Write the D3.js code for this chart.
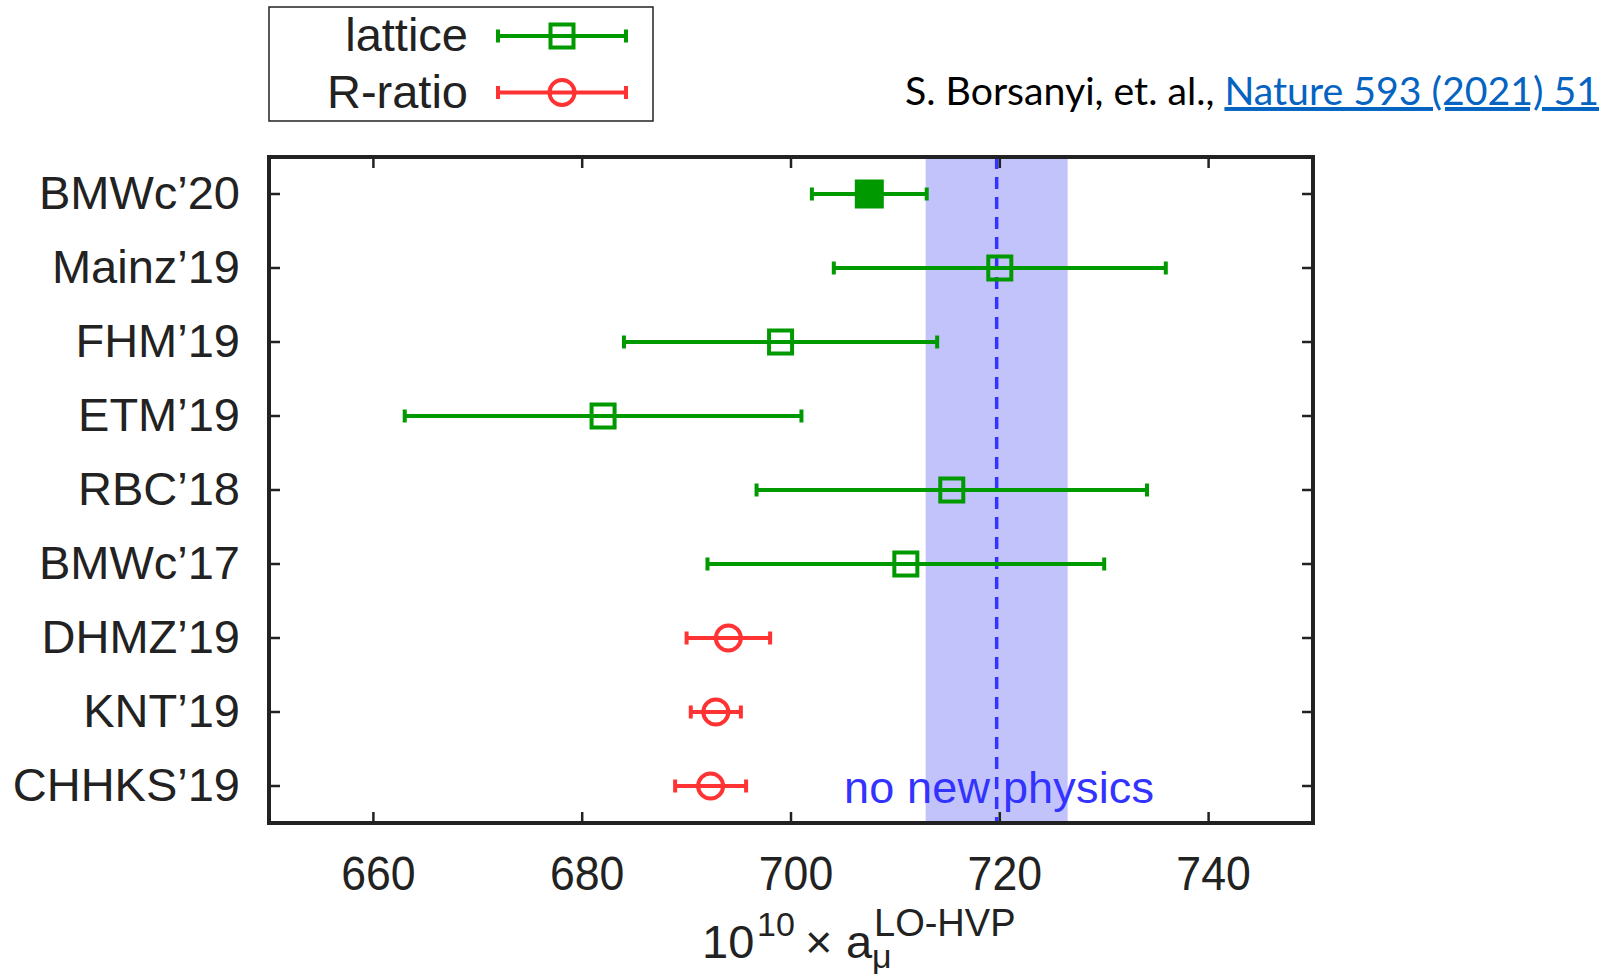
<!DOCTYPE html>
<html>
<head>
<meta charset="utf-8">
<script src="https://cdn.jsdelivr.net/npm/d3@7"></script>
<style>
  body { margin: 0; background: #fff; }
  svg { display: block; }
</style>
</head>
<body>
<svg id="chart" width="1612" height="980"></svg>
<script>
'use strict';

// values
const labels = ['BMWc’20', 'Mainz’19', 'FHM’19', 'ETM’19', 'RBC’18', 'BMWc’17', 'DHMZ’19', 'KNT’19', 'CHHKS’19'];
const values = [707.5, 720.0, 699.0, 682.0, 715.4, 711.0, 694.0, 692.8, 692.3];
const errors = [5.5, 15.9, 15.0, 19.0, 18.7, 19.0, 4.0, 2.4, 3.4];
const methods = ['lattice', 'lattice', 'lattice', 'lattice', 'lattice', 'lattice', 'R-ratio', 'R-ratio', 'R-ratio'];
const filled = [true, false, false, false, false, false, false, false, false];
const xTicks = [660, 680, 700, 720, 740];
const xDomain = [650, 750];
const band = [712.9, 726.5];
const bandCenter = 719.7;
const legendNames = ['lattice', 'R-ratio'];

const COLORS = { 'lattice': '#009900', 'R-ratio': '#ff3333' };
const FRAME = '#222';
const FONT = '"Liberation Sans", Arial, sans-serif';

const plot = { left: 269, right: 1313, top: 157, bottom: 823 };

const svg = d3.select('#chart');

const x = d3.scaleLinear().domain(xDomain).range([plot.left, plot.right]);
const y = d3.scalePoint().domain(labels).range([plot.top, plot.bottom]).padding(0.5);

// band + dashed line
svg.append('rect')
	.attr('x', x(band[0]))
	.attr('y', plot.top)
	.attr('width', x(band[1]) - x(band[0]))
	.attr('height', plot.bottom - plot.top)
	.style('fill', '#c3c3fb');

svg.append('line')
	.attr('x1', x(bandCenter)).attr('x2', x(bandCenter))
	.attr('y1', plot.top).attr('y2', plot.bottom)
	.style('stroke', '#3333ff')
	.style('stroke-width', 3.5)
	.style('stroke-dasharray', '12,8');

svg.append('text')
	.attr('x', 844)
	.attr('y', 803)
	.style('font-family', FONT)
	.style('font-size', '45px')
	.style('fill', '#3333ff')
	.attr('textLength', 310)
	.text('no new physics');

// ticks inside frame
const tickLen = 11;
const ticks = svg.append('g').style('stroke', FRAME).style('stroke-width', 2.5);
xTicks.forEach(t => {
	ticks.append('line').attr('x1', x(t)).attr('x2', x(t)).attr('y1', plot.bottom).attr('y2', plot.bottom - tickLen);
	ticks.append('line').attr('x1', x(t)).attr('x2', x(t)).attr('y1', plot.top).attr('y2', plot.top + tickLen);
});
labels.forEach(l => {
	ticks.append('line').attr('x1', plot.left).attr('x2', plot.left + tickLen).attr('y1', y(l)).attr('y2', y(l));
	ticks.append('line').attr('x1', plot.right).attr('x2', plot.right - tickLen).attr('y1', y(l)).attr('y2', y(l));
});

// error bar + marker
function drawPoint(g, cx, cy, halfWidthPx, method, isFilled) {
	let color = COLORS[method];
	g.append('line')
		.attr('x1', cx - halfWidthPx).attr('x2', cx + halfWidthPx)
		.attr('y1', cy).attr('y2', cy)
		.style('stroke', color).style('stroke-width', 4);
	[cx - halfWidthPx, cx + halfWidthPx].forEach(ex => {
		g.append('line')
			.attr('x1', ex).attr('x2', ex)
			.attr('y1', cy - 6.5).attr('y2', cy + 6.5)
			.style('stroke', color).style('stroke-width', 4);
	});
	if (method === 'lattice') {
		let s = isFilled ? 29 : 23;
		g.append('rect')
			.attr('x', cx - s / 2).attr('y', cy - s / 2)
			.attr('width', s).attr('height', s)
			.style('fill', isFilled ? color : 'none')
			.style('stroke', isFilled ? 'none' : color)
			.style('stroke-width', 4);
	} else {
		g.append('circle')
			.attr('cx', cx).attr('cy', cy).attr('r', 12.5)
			.style('fill', 'none')
			.style('stroke', color)
			.style('stroke-width', 4);
	}
}

const points = svg.append('g');
labels.forEach((l, i) => {
	drawPoint(points, x(values[i]), y(l), x(values[i] + errors[i]) - x(values[i]), methods[i], filled[i]);
});

// frame
svg.append('rect')
	.attr('x', plot.left).attr('y', plot.top)
	.attr('width', plot.right - plot.left).attr('height', plot.bottom - plot.top)
	.style('fill', 'none').style('stroke', FRAME).style('stroke-width', 4);

// y labels
svg.append('g').selectAll('text').data(labels).enter().append('text')
	.attr('x', 240)
	.attr('y', d => y(d) + 15)
	.attr('text-anchor', 'end')
	.style('font-family', FONT)
	.style('font-size', '47px')
	.style('fill', '#222')
	.text(d => d);

// x tick labels (narrow font)
svg.append('g').selectAll('text').data(xTicks).enter().append('text')
	.attr('transform', d => `translate(${x(d) + 5},890) scale(0.93,1)`)
	.attr('text-anchor', 'middle')
	.style('font-family', FONT)
	.style('font-size', '48px')
	.style('fill', '#222')
	.text(d => d);

// x axis title: 10^10 × a_μ^LO-HVP
const title = svg.append('text')
	.style('font-family', FONT)
	.style('fill', '#222');
title.append('tspan').attr('x', 702).attr('y', 958).style('font-size', '47px').text('10');
title.append('tspan').attr('x', 757).attr('y', 936).style('font-size', '34px').text('10');
title.append('tspan').attr('x', 805).attr('y', 958).style('font-size', '47px').text('×');
title.append('tspan').attr('x', 846).attr('y', 958).style('font-size', '47px').text('a');
title.append('tspan').attr('x', 872).attr('y', 968).style('font-size', '34px').text('μ');
title.append('tspan').attr('x', 874).attr('y', 936).style('font-size', '38px').text('LO-HVP');

// legend
svg.append('rect')
	.attr('x', 269).attr('y', 7)
	.attr('width', 384).attr('height', 114)
	.style('fill', '#fff').style('stroke', FRAME).style('stroke-width', 1.5);

const legendY = d3.scalePoint().domain(legendNames).range([36, 92.5]);
legendNames.forEach(name => {
	svg.append('text')
		.attr('x', 468)
		.attr('y', legendY(name) + 15)
		.attr('text-anchor', 'end')
		.style('font-family', FONT)
		.style('font-size', '47px')
		.style('fill', '#222')
		.text(name);
	drawPoint(svg.append('g'), 562, legendY(name), 64, name, false);
});

// citation
const cite = svg.append('text')
	.attr('x', 905)
	.attr('y', 105)
	.style('font-family', 'Lato, "Open Sans", sans-serif')
	.style('font-size', '39.5px');
cite.append('tspan').style('fill', '#000').text('S. Borsanyi, et. al., ');
cite.append('tspan').style('fill', '#0563c1').style('text-decoration', 'underline').text('Nature 593 (2021) 51');
cite.attr('textLength', 694).attr('lengthAdjust', 'spacingAndGlyphs');
</script>
</body>
</html>
